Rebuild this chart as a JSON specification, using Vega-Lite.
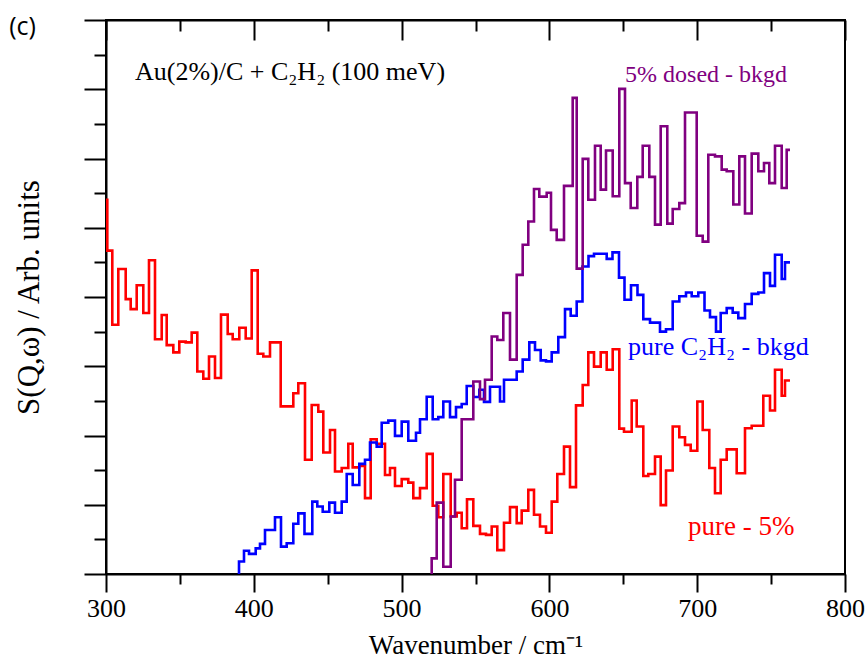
{
 "$schema": "https://vega.github.io/schema/vega-lite/v6.json",
 "width": 739, "height": 554,
 "autosize": {"type": "none"},
 "padding": {"left": 106, "top": 20, "right": 22, "bottom": 92},
 "background": "white",
 "view": {"stroke": "black", "strokeWidth": 2},
 "config": {"axis": {"labelFont": "Liberation Serif", "titleFont": "Liberation Serif", "domainColor": "black", "domainWidth": 2, "tickColor": "black", "tickWidth": 2, "grid": false, "labelColor": "black", "titleColor": "black", "titleFontWeight": "normal"}},
 "datasets": {
  "red": [{"wn":300.0,"s":10.81},{"wn":300.88,"s":9.34},{"wn":304.26,"s":7.2},{"wn":308.32,"s":8.81},{"wn":313.33,"s":7.94},{"wn":316.71,"s":7.65},{"wn":320.77,"s":8.34},{"wn":325.24,"s":7.54},{"wn":329.09,"s":9.06},{"wn":333.15,"s":6.78},{"wn":337.69,"s":7.48},{"wn":341.07,"s":6.61},{"wn":345.54,"s":6.4},{"wn":349.59,"s":6.71},{"wn":353.92,"s":6.69},{"wn":357.98,"s":6.97},{"wn":361.77,"s":5.85},{"wn":365.83,"s":5.64},{"wn":369.69,"s":6.28},{"wn":373.75,"s":5.66},{"wn":377.81,"s":7.49},{"wn":382.34,"s":6.93},{"wn":385.72,"s":6.78},{"wn":390.19,"s":7.11},{"wn":394.52,"s":6.8},{"wn":398.58,"s":8.77},{"wn":402.64,"s":6.36},{"wn":406.43,"s":6.28},{"wn":410.96,"s":6.69},{"wn":418.2,"s":4.84},{"wn":426.73,"s":5.22},{"wn":430.11,"s":5.51},{"wn":434.64,"s":3.3},{"wn":439.18,"s":4.88},{"wn":443.64,"s":4.69},{"wn":447.02,"s":3.51},{"wn":451.56,"s":4.16},{"wn":454.94,"s":2.96},{"wn":459.47,"s":3.06},{"wn":463.94,"s":3.76},{"wn":466.92,"s":3.08},{"wn":471.38,"s":3.12},{"wn":475.24,"s":2.19},{"wn":479.09,"s":3.89},{"wn":483.15,"s":3.76},{"wn":488.77,"s":2.86},{"wn":492.15,"s":3.06},{"wn":495.53,"s":2.54},{"wn":500.07,"s":2.74},{"wn":504.53,"s":2.64},{"wn":507.92,"s":2.19},{"wn":512.45,"s":2.48},{"wn":516.98,"s":3.47},{"wn":521.04,"s":1.97},{"wn":524.83,"s":1.64},{"wn":528.21,"s":2.89},{"wn":533.22,"s":1.66},{"wn":537.28,"s":1.77},{"wn":540.66,"s":1.32},{"wn":544.25,"s":2.16},{"wn":548.51,"s":1.39},{"wn":553.04,"s":1.16},{"wn":557.1,"s":1.13},{"wn":560.96,"s":1.37},{"wn":564.75,"s":0.69},{"wn":569.28,"s":1.48},{"wn":573.34,"s":1.93},{"wn":577.87,"s":1.47},{"wn":581.26,"s":1.83},{"wn":585.72,"s":2.43},{"wn":589.58,"s":1.71},{"wn":593.64,"s":1.37},{"wn":597.7,"s":1.19},{"wn":601.56,"s":2.09},{"wn":605.35,"s":2.89},{"wn":609.88,"s":3.68},{"wn":613.94,"s":2.51},{"wn":618.0,"s":4.87},{"wn":622.53,"s":5.46},{"wn":626.32,"s":6.4},{"wn":630.18,"s":5.99},{"wn":634.71,"s":6.4},{"wn":638.77,"s":5.9},{"wn":642.83,"s":6.49},{"wn":647.3,"s":4.2},{"wn":650.47,"s":4.11},{"wn":655.68,"s":5.01},{"wn":659.06,"s":4.26},{"wn":663.53,"s":2.83},{"wn":666.91,"s":2.89},{"wn":671.45,"s":3.39},{"wn":675.3,"s":1.99},{"wn":678.89,"s":2.99},{"wn":683.42,"s":4.26},{"wn":687.89,"s":3.95},{"wn":691.75,"s":3.73},{"wn":695.6,"s":3.56},{"wn":700.07,"s":4.98},{"wn":703.72,"s":4.16},{"wn":708.19,"s":3.06},{"wn":712.04,"s":2.33},{"wn":715.9,"s":3.3},{"wn":719.96,"s":3.6},{"wn":726.72,"s":2.91},{"wn":732.34,"s":4.21},{"wn":736.87,"s":4.28},{"wn":744.72,"s":5.15},{"wn":749.26,"s":4.72},{"wn":752.64,"s":5.9},{"wn":757.17,"s":5.15},{"wn":759.4,"s":5.59},{"wn":762.78,"s":5.59}],
  "blue": [{"wn":389.99,"s":0},{"wn":389.99,"s":0.36},{"wn":393.37,"s":0.67},{"wn":396.75,"s":0.58},{"wn":401.29,"s":0.74},{"wn":404.19,"s":0.87},{"wn":407.58,"s":1.27},{"wn":414.34,"s":1.64},{"wn":418.4,"s":0.79},{"wn":422.26,"s":0.89},{"wn":426.73,"s":1.45},{"wn":430.11,"s":1.75},{"wn":434.3,"s":1.16},{"wn":439.58,"s":2.09},{"wn":442.96,"s":1.95},{"wn":446.62,"s":1.8},{"wn":451.08,"s":2.06},{"wn":454.94,"s":1.77},{"wn":459.47,"s":2.09},{"wn":462.86,"s":2.89},{"wn":466.92,"s":2.57},{"wn":471.38,"s":3.18},{"wn":475.24,"s":3.3},{"wn":478.62,"s":3.8},{"wn":483.15,"s":3.68},{"wn":486.54,"s":4.37},{"wn":491.0,"s":4.43},{"wn":495.53,"s":3.99},{"wn":500.07,"s":4.4},{"wn":504.53,"s":3.85},{"wn":509.74,"s":4.08},{"wn":512.45,"s":4.47},{"wn":516.98,"s":5.12},{"wn":521.04,"s":4.47},{"wn":524.83,"s":4.53},{"wn":528.21,"s":4.98},{"wn":532.75,"s":4.53},{"wn":536.81,"s":4.82},{"wn":540.66,"s":4.91},{"wn":544.05,"s":5.43},{"wn":548.51,"s":5.11},{"wn":552.57,"s":5.32},{"wn":555.75,"s":4.97},{"wn":559.81,"s":5.41},{"wn":566.58,"s":4.98},{"wn":569.28,"s":5.61},{"wn":577.87,"s":5.85},{"wn":581.93,"s":6.19},{"wn":586.4,"s":6.69},{"wn":590.26,"s":6.47},{"wn":594.11,"s":6.17},{"wn":597.7,"s":6.14},{"wn":601.56,"s":6.4},{"wn":606.02,"s":6.84},{"wn":610.56,"s":7.65},{"wn":614.41,"s":7.46},{"wn":618.47,"s":7.87},{"wn":622.39,"s":8.88},{"wn":626.45,"s":9.18},{"wn":630.18,"s":9.25},{"wn":638.77,"s":9.1},{"wn":642.69,"s":9.29},{"wn":647.09,"s":8.56},{"wn":650.81,"s":7.92},{"wn":655.21,"s":8.34},{"wn":659.6,"s":8.06},{"wn":663.53,"s":7.36},{"wn":668.07,"s":7.26},{"wn":674.83,"s":7.0},{"wn":678.89,"s":7.07},{"wn":683.42,"s":7.87},{"wn":687.89,"s":8.02},{"wn":692.42,"s":8.13},{"wn":696.28,"s":8.02},{"wn":700.74,"s":8.13},{"wn":704.94,"s":7.61},{"wn":708.66,"s":7.42},{"wn":712.72,"s":7.0},{"wn":715.9,"s":7.54},{"wn":719.96,"s":7.68},{"wn":724.02,"s":7.55},{"wn":727.81,"s":7.39},{"wn":732.34,"s":7.8},{"wn":736.87,"s":8.09},{"wn":741.34,"s":8.13},{"wn":745.2,"s":8.69},{"wn":749.26,"s":8.32},{"wn":752.64,"s":9.22},{"wn":757.17,"s":8.52},{"wn":759.4,"s":9.0},{"wn":762.78,"s":9.0}],
  "purple": [{"wn":520.36,"s":0},{"wn":520.36,"s":0.45},{"wn":523.75,"s":2.06},{"wn":528.21,"s":0.21},{"wn":533.22,"s":1.66},{"wn":536.13,"s":2.72},{"wn":540.66,"s":4.47},{"wn":548.51,"s":5.56},{"wn":553.04,"s":5.05},{"wn":556.43,"s":5.61},{"wn":560.96,"s":6.86},{"wn":564.75,"s":6.76},{"wn":568.81,"s":7.54},{"wn":573.34,"s":6.19},{"wn":577.87,"s":8.64},{"wn":581.93,"s":9.51},{"wn":585.72,"s":10.18},{"wn":589.58,"s":11.12},{"wn":593.16,"s":10.9},{"wn":598.17,"s":11.01},{"wn":601.08,"s":9.94},{"wn":604.94,"s":9.65},{"wn":609.88,"s":11.21},{"wn":615.76,"s":13.75},{"wn":618.47,"s":8.82},{"wn":622.53,"s":11.99},{"wn":626.32,"s":10.81},{"wn":630.85,"s":12.37},{"wn":634.71,"s":11.1},{"wn":638.3,"s":12.23},{"wn":642.83,"s":10.91},{"wn":647.3,"s":14.01},{"wn":651.15,"s":11.29},{"wn":655.01,"s":10.57},{"wn":659.47,"s":11.47},{"wn":663.13,"s":12.37},{"wn":667.6,"s":11.47},{"wn":671.45,"s":10.09},{"wn":675.3,"s":12.93},{"wn":679.77,"s":10.12},{"wn":683.42,"s":10.54},{"wn":687.89,"s":10.71},{"wn":691.75,"s":13.33},{"wn":699.66,"s":9.77},{"wn":703.72,"s":9.6},{"wn":707.51,"s":12.11},{"wn":712.04,"s":12.06},{"wn":716.57,"s":11.68},{"wn":719.96,"s":11.63},{"wn":724.43,"s":10.67},{"wn":728.49,"s":12.06},{"wn":732.34,"s":10.41},{"wn":736.87,"s":12.14},{"wn":741.34,"s":11.63},{"wn":745.2,"s":11.87},{"wn":748.78,"s":11.29},{"wn":752.64,"s":12.37},{"wn":757.17,"s":11.15},{"wn":760.55,"s":12.25},{"wn":762.78,"s":12.25}],
  "notes": [{"series":"note","label":"Au(2%)/C + C₂H₂ (100 meV)","x":319.6,"y":14.51},{"series":"dosed","label":"5% dosed - bkgd","x":651.2,"y":14.42},{"series":"pure","label":"pure C₂H₂ - bkgd","x":653.2,"y":6.56},{"series":"diff","label":"pure - 5%","x":693.8,"y":1.36}],
  "panel": [{"label":"(c)","x":234.5,"y":15.8}]
 },
 "resolve": {"axis": {"x": "independent", "y": "independent"}},
 "layer": [
  {"data": {"name": "red"},
   "mark": {"type": "line", "interpolate": "step-after", "color": "#ff0000", "strokeWidth": 2.6, "clip": true},
   "encoding": {
    "x": {"field": "wn", "type": "quantitative", "scale": {"domain": [300, 800], "nice": false, "zero": false},
      "axis": {"orient": "bottom", "values": [300,350,400,450,500,550,600,650,700,750,800],
        "tickSize": {"condition": {"test": "datum.value % 100 === 0", "value": 18}, "value": 10},
        "labelExpr": "datum.value % 100 === 0 ? datum.label : ''", "labelOverlap": false, "labelFlush": false,
        "labelFontSize": 26, "labelPadding": 3, "title": "Wavenumber / cm⁻¹", "titleFontSize": 27, "titlePadding": 11}},
    "y": {"field": "s", "type": "quantitative", "scale": {"domain": [0, 16], "nice": false, "zero": false},
      "axis": {"orient": "left", "values": [0,1,2,3,4,5,6,7,8,9,10,11,12,13,14,15,16], "labels": false,
        "tickSize": {"condition": {"test": "datum.value % 2 === 0", "value": 22}, "value": 12},
        "title": "S(Q,ω) / Arb. units", "titleFontSize": 31, "titlePadding": 38}}
   }},
  {"data": {"name": "blue"},
   "mark": {"type": "line", "interpolate": "step-after", "color": "#0000ff", "strokeWidth": 2.6, "clip": true},
   "encoding": {
    "x": {"field": "wn", "type": "quantitative", "axis": null},
    "y": {"field": "s", "type": "quantitative", "axis": null}
   }},
  {"data": {"name": "purple"},
   "mark": {"type": "line", "interpolate": "step-after", "color": "#800080", "strokeWidth": 2.6, "clip": true},
   "encoding": {
    "x": {"field": "wn", "type": "quantitative", "axis": null},
    "y": {"field": "s", "type": "quantitative", "axis": null}
   }},
  {"data": {"name": "notes"},
   "transform": [{"filter": "datum.series === 'note'"}],
   "mark": {"type": "text", "align": "left", "baseline": "middle", "font": "Liberation Serif", "fontSize": 26, "color": "#000000"},
   "encoding": {
    "x": {"field": "x", "type": "quantitative",
      "axis": {"orient": "top", "values": [300,350,400,450,500,550,600,650,700,750,800], "labels": false, "title": null,
        "tickSize": {"condition": {"test": "datum.value % 100 === 0", "value": -20}, "value": -11}}},
    "y": {"field": "y", "type": "quantitative", "axis": null},
    "text": {"field": "label"}
   }},
  {"data": {"name": "notes"},
   "transform": [{"filter": "datum.series === 'dosed'"}],
   "mark": {"type": "text", "align": "left", "baseline": "middle", "font": "Liberation Serif", "fontSize": 24, "color": "#800080"},
   "encoding": {
    "x": {"field": "x", "type": "quantitative", "axis": null},
    "y": {"field": "y", "type": "quantitative", "axis": null},
    "text": {"field": "label"}
   }},
  {"data": {"name": "notes"},
   "transform": [{"filter": "datum.series === 'pure'"}],
   "mark": {"type": "text", "align": "left", "baseline": "middle", "font": "Liberation Serif", "fontSize": 26, "color": "#0000ff"},
   "encoding": {
    "x": {"field": "x", "type": "quantitative", "axis": null},
    "y": {"field": "y", "type": "quantitative", "axis": null},
    "text": {"field": "label"}
   }},
  {"data": {"name": "notes"},
   "transform": [{"filter": "datum.series === 'diff'"}],
   "mark": {"type": "text", "align": "left", "baseline": "middle", "font": "Liberation Serif", "fontSize": 27, "color": "#ff0000"},
   "encoding": {
    "x": {"field": "x", "type": "quantitative", "axis": null},
    "y": {"field": "y", "type": "quantitative", "axis": null},
    "text": {"field": "label"}
   }},
  {"data": {"name": "panel"},
   "mark": {"type": "text", "align": "left", "baseline": "middle", "font": "Open Sans", "fontSize": 25, "color": "black"},
   "encoding": {
    "x": {"field": "x", "type": "quantitative", "axis": null},
    "y": {"field": "y", "type": "quantitative", "axis": null},
    "text": {"field": "label"}
   }}
 ]
}
